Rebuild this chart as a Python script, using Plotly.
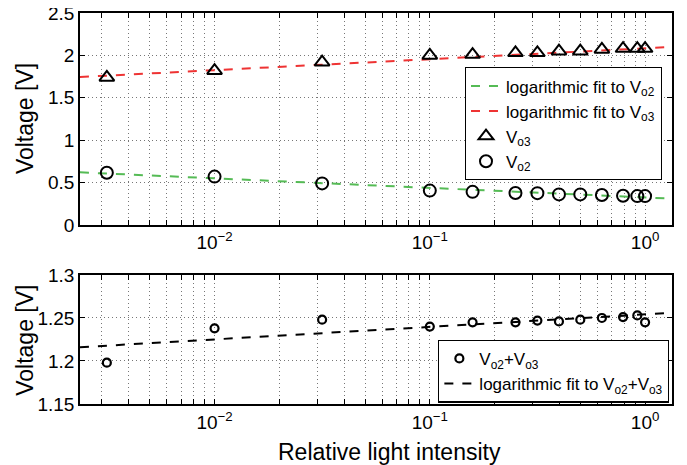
import plotly.graph_objects as go

# ---- data ----
intensity = [0.00316, 0.01, 0.0316, 0.1, 0.158, 0.25, 0.316, 0.398, 0.5, 0.63, 0.79, 0.92, 1.0]
v_o3 = [1.74, 1.82, 1.92, 2.00, 2.01, 2.03, 2.03, 2.05, 2.05, 2.07, 2.08, 2.08, 2.08]
v_o2 = [0.615, 0.57, 0.49, 0.405, 0.39, 0.376, 0.375, 0.36, 0.36, 0.353, 0.345, 0.34, 0.34]
v_sum = [1.198, 1.238, 1.248, 1.240, 1.245, 1.245, 1.247, 1.246, 1.248, 1.250, 1.251, 1.253, 1.245]

fit_x = [0.00237, 1.334]
fit_vo2 = [0.62, 0.31]
fit_vo3 = [1.745, 2.10]
fit_sum = [1.216, 1.256]

x_tick_vals = [0.003, 0.004, 0.005, 0.006, 0.007, 0.008, 0.009,
               0.01, 0.02, 0.03, 0.04, 0.05, 0.06, 0.07, 0.08, 0.09,
               0.1, 0.2, 0.3, 0.4, 0.5, 0.6, 0.7, 0.8, 0.9, 1.0]
x_tick_text = ["" for _ in x_tick_vals]
x_tick_text[x_tick_vals.index(0.01)] = "10<sup>−2</sup>"
x_tick_text[x_tick_vals.index(0.1)] = "10<sup>−1</sup>"
x_tick_text[x_tick_vals.index(1.0)] = "10<sup>0</sup>"

top_y_ticks = [0, 0.5, 1, 1.5, 2, 2.5]
top_y_text = ["0", "0.5", "1", "1.5", "2", "2.5"]
bot_y_ticks = [1.15, 1.2, 1.25, 1.3]
bot_y_text = ["1.15", "1.2", "1.25", "1.3"]

y_title = "Voltage [V]"
x_title = "Relative light intensity"

FONT = "Liberation Sans, Arial, Helvetica, sans-serif"
GREEN = "#55bb55"
RED = "#ee3333"

fig = go.Figure()

# top panel
fig.add_trace(go.Scatter(x=fit_x, y=fit_vo2, mode="lines", name="logarithmic fit to V<sub>o2</sub>",
                         line=dict(color=GREEN, dash="dash", width=2), xaxis="x", yaxis="y", legend="legend"))
fig.add_trace(go.Scatter(x=fit_x, y=fit_vo3, mode="lines", name="logarithmic fit to V<sub>o3</sub>",
                         line=dict(color=RED, dash="dash", width=2), xaxis="x", yaxis="y", legend="legend"))
fig.add_trace(go.Scatter(x=intensity, y=v_o3, mode="markers", name="V<sub>o3</sub>",
                         marker=dict(symbol="triangle-up-open", size=13, color="black", line=dict(width=2)),
                         xaxis="x", yaxis="y", legend="legend"))
fig.add_trace(go.Scatter(x=intensity, y=v_o2, mode="markers", name="V<sub>o2</sub>",
                         marker=dict(symbol="circle-open", size=12, color="black", line=dict(width=2)),
                         xaxis="x", yaxis="y", legend="legend"))

# bottom panel
fig.add_trace(go.Scatter(x=intensity, y=v_sum, mode="markers", name="V<sub>o2</sub>+V<sub>o3</sub>",
                         marker=dict(symbol="circle-open", size=8, color="black", line=dict(width=2.2)),
                         xaxis="x2", yaxis="y2", legend="legend2"))
fig.add_trace(go.Scatter(x=fit_x, y=fit_sum, mode="lines", name="logarithmic fit to V<sub>o2</sub>+V<sub>o3</sub>",
                         line=dict(color="black", dash="dash", width=2), xaxis="x2", yaxis="y2", legend="legend2"))

xrange = [-2.625, 0.125]
GRID = dict(showgrid=True, gridcolor="#777777", griddash="1px,3px", gridwidth=1)
common_x = dict(type="log", range=xrange, tickvals=x_tick_vals, ticktext=x_tick_text,
                ticks="inside", ticklen=5, tickcolor="black", showline=True, linecolor="black",
                linewidth=1.5, mirror="ticks", zeroline=False, automargin=False,
                ticklabeloverflow="allow",
                tickfont=dict(size=19, color="black", family=FONT), **GRID)
common_y = dict(ticks="inside", ticklen=5, tickcolor="black", showline=True, linecolor="black",
                linewidth=1.5, mirror="ticks", zeroline=False, automargin=False,
                ticklabeloverflow="allow",
                tickfont=dict(size=19, color="black", family=FONT), **GRID)

fig.update_layout(
    width=687, height=465,
    margin=dict(l=72, r=23, t=5, b=69),
    paper_bgcolor="white", plot_bgcolor="white",
    font=dict(family=FONT, color="black", size=19),
    xaxis=dict(common_x, domain=[0, 1], anchor="y"),
    yaxis=dict(common_y, domain=[0.458, 1], range=[0, 2.5], tickvals=top_y_ticks, ticktext=top_y_text,
               anchor="x"),
    xaxis2=dict(common_x, domain=[0, 1], anchor="y2"),
    yaxis2=dict(common_y, domain=[0, 0.330], range=[1.15, 1.3], tickvals=bot_y_ticks, ticktext=bot_y_text,
                anchor="x2"),
    legend=dict(x=0.650, y=0.717, xanchor="left", yanchor="middle", bgcolor="white",
                bordercolor="black", borderwidth=1.2, font=dict(size=17), tracegroupgap=0,
                itemwidth=30),
    legend2=dict(x=0.605, y=0.084, xanchor="left", yanchor="middle", bgcolor="white",
                 bordercolor="black", borderwidth=1.2, font=dict(size=17), tracegroupgap=0,
                 itemwidth=30),
    showlegend=True,
    annotations=[
        dict(text=y_title, xref="paper", yref="paper", x=-0.093, y=0.731, xanchor="center",
             yanchor="middle", textangle=-90, showarrow=False, font=dict(size=23)),
        dict(text=y_title, xref="paper", yref="paper", x=-0.093, y=0.164, xanchor="center",
             yanchor="middle", textangle=-90, showarrow=False, font=dict(size=23)),
        dict(text=x_title, xref="paper", yref="paper", x=0.522, y=-0.123, xanchor="center",
             yanchor="middle", showarrow=False, font=dict(size=23)),
    ],
)

fig.write_html("out.html")
